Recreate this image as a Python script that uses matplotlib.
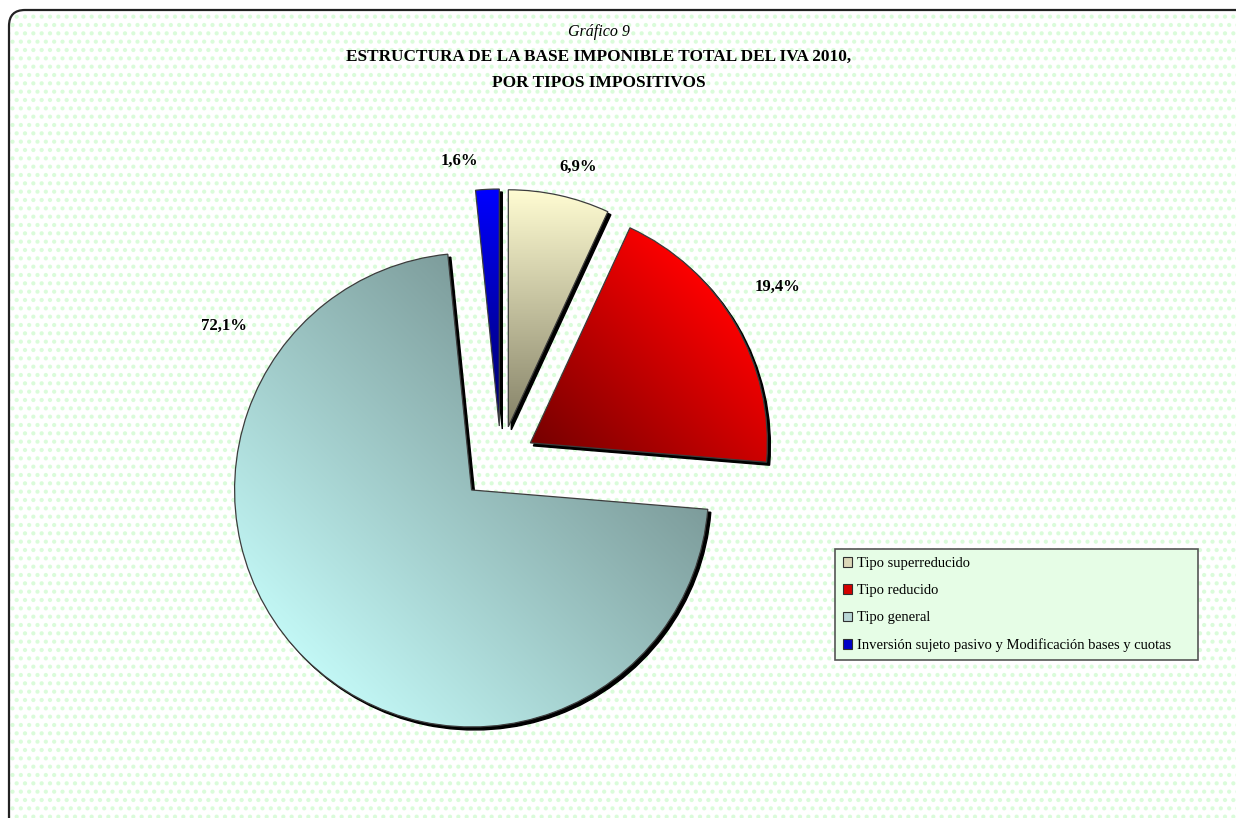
import numpy as np
import matplotlib.pyplot as plt
from matplotlib.patches import Wedge, Patch, FancyBboxPatch
from matplotlib.colors import LinearSegmentedColormap

plt.rcParams['font.family'] = ['Liberation Serif', 'DejaVu Serif']
plt.rcParams['hatch.linewidth'] = 1.8

# Datos del gráfico
categorias = ['Tipo superreducido', 'Tipo reducido', 'Tipo general',
              'Inversión sujeto pasivo y Modificación bases y cuotas']
porcentajes = [6.9, 19.4, 72.1, 1.6]

# degradados: (color en t=0, color en t=1) y dirección de t
grad_colores = [('#858268', '#fffcd2'), ('#760000', '#ff0000'),
                ('#c2f7f5', '#7d9c9b'), ('#000068', '#0000ff')]
grad_dir = [(0, 1), (1, 1), (1, 1), (0, 1)]
leyenda_colores = ['#dcd8b8', '#d40000', '#b8d6d6', '#0000c8']

# posición de las etiquetas (píxeles de la imagen)
etiquetas_xy = [(578, 167), (778, 287), (224, 326), (459, 161)]

W, H = 1236, 818
fig = plt.figure(figsize=(W / 100, H / 100), dpi=100)
ax = fig.add_axes([0, 0, 1, 1])

# fondo punteado con borde redondeado
fondo = FancyBboxPatch((9, -30), 1260, H - 10 + 30, boxstyle='round,pad=0,rounding_size=16',
                       facecolor='white', edgecolor='#dafcda', linewidth=0, hatch='..', zorder=0)
borde = FancyBboxPatch((9, -30), 1260, H - 10 + 30, boxstyle='round,pad=0,rounding_size=16',
                       facecolor='none', edgecolor='#222222', linewidth=1.6, zorder=0.5)
ax.add_patch(fondo)
ax.add_patch(borde)

centro = (501, H - 460)
radio = 237
separacion = [34, 34, 42, 34]

wedges, _ = ax.pie(porcentajes, explode=separacion, startangle=90, counterclock=False,
                   radius=radio, center=centro, frame=True,
                   wedgeprops=dict(edgecolor='#3c3c3c', linewidth=0.9, zorder=4))

for w, (c0, c1), (dx, dy) in zip(wedges, grad_colores, grad_dir):
    w.set_facecolor('none')
    sombra = Wedge((w.center[0] + 3, w.center[1] - 3), w.r, w.theta1, w.theta2,
                   facecolor='black', edgecolor='black', linewidth=1, zorder=2)
    ax.add_patch(sombra)
    verts = w.get_path().vertices
    x0, y0 = verts.min(axis=0)
    x1, y1 = verts.max(axis=0)
    X, Y = np.meshgrid(np.linspace(x0, x1, 300), np.linspace(y0, y1, 300))
    pv = verts[:, 0] * dx + verts[:, 1] * dy
    t = (X * dx + Y * dy - pv.min()) / (pv.max() - pv.min())
    cmap = LinearSegmentedColormap.from_list('grad', [c0, c1])
    img = ax.imshow(t, cmap=cmap, vmin=0, vmax=1, extent=(x0, x1, y0, y1), origin='lower',
                    aspect='auto', interpolation='bilinear', zorder=3)
    img.set_clip_path(w)

for p, (x, y) in zip(porcentajes, etiquetas_xy):
    ax.text(x, H - y, f'{p:.1f}%'.replace('.', ','), ha='center', va='center',
            fontsize=12, fontweight='bold', zorder=5)

# títulos
ax.text(599, H - 32, 'Gráfico 9', ha='center', va='center', fontsize=11.5, style='italic')
ax.text(599, H - 57, 'ESTRUCTURA DE LA BASE IMPONIBLE TOTAL DEL IVA 2010,',
        ha='center', va='center', fontsize=12.4, fontweight='bold')
ax.text(599, H - 83, 'POR TIPOS IMPOSITIVOS', ha='center', va='center',
        fontsize=12.4, fontweight='bold')

handles = [Patch(facecolor=c, edgecolor='#303030', linewidth=0.8) for c in leyenda_colores]
leg = ax.legend(handles, categorias, loc='upper left',
                bbox_to_anchor=(835 / W, 1 - 549 / H, 363 / W, 0), mode='expand',
                borderaxespad=0, fontsize=10.5, fancybox=False, framealpha=1,
                facecolor='#e6fde6', edgecolor='#555555', borderpad=0.55,
                labelspacing=0.97, handlelength=0.6, handleheight=0.6, handletextpad=0.35)
leg.get_frame().set_linewidth(1.2)
leg.set_zorder(6)

ax.set_xlim(0, W)
ax.set_ylim(0, H)
ax.axis('off')

fig.savefig('out.png', dpi=100)
